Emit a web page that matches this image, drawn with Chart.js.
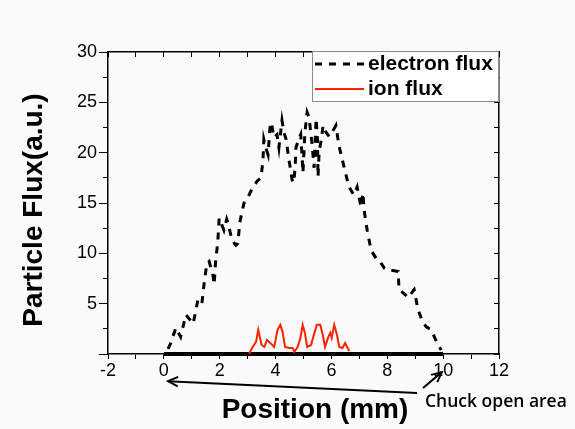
<!DOCTYPE html>
<html>
<head>
<meta charset="utf-8">
<script src="https://cdn.jsdelivr.net/npm/chart.js@4.4.1/dist/chart.umd.min.js"></script>
<style>
  html, body { margin: 0; padding: 0; background: #fafafa; }
</style>
</head>
<body>
<canvas id="graficoFlujo" width="575" height="429"></canvas>
<script>
// Datos (posicion en mm, flujo en u.a.)
const electronX = [0.15, 0.25, 0.43, 0.6, 0.79, 1.05, 1.22, 1.36, 1.45, 1.54, 1.62, 1.76, 1.8, 1.85, 1.93,
  1.98, 2.08, 2.15, 2.25, 2.3, 2.44, 2.58, 2.65, 2.72, 2.87, 3.0, 3.19, 3.35, 3.48, 3.55,
  3.58, 3.65, 3.73, 3.8, 3.85, 3.94, 4.05, 4.12, 4.23, 4.3, 4.37, 4.48, 4.59, 4.65, 4.7,
  4.73, 4.84, 4.9, 4.95, 4.98, 5.05, 5.13, 5.2, 5.3, 5.38, 5.45, 5.5, 5.52, 5.56, 5.65,
  5.7, 5.81, 5.92, 6.02, 6.16, 6.27, 6.45, 6.63, 6.8, 6.92, 7.06, 7.13, 7.17, 7.28, 7.42,
  7.6, 7.71, 7.9, 8.03, 8.2, 8.39, 8.42, 8.6, 8.75, 8.96, 9.1, 9.28, 9.4, 9.57, 9.82, 9.93];
const electronY = [0.5, 1.1, 2.6, 1.7, 3.9, 3.0, 5.4, 5.0, 7.2, 9.0, 9.2, 7.8, 6.9, 9.1, 11.1,
  13.5, 12.8, 12.3, 13.4, 13.0, 11.3, 10.8, 11.0, 13.1, 15.0, 15.5, 16.6, 17.2, 17.5, 19.3,
  21.3, 20.5, 19.8, 22.5, 23.0, 21.5, 21.8, 20.5, 23.2, 22.0, 21.4, 19.3, 17.3, 17.0, 18.5,
  20.5, 21.4, 21.8, 19.6, 18.0, 22.0, 24.0, 23.5, 21.0, 18.5, 23.4, 21.4, 17.6, 20.1, 21.5,
  22.7, 22.0, 21.6, 22.0, 22.7, 20.7, 18.6, 16.6, 15.8, 16.6, 14.6, 16.0, 14.3, 12.3, 10.3,
  9.5, 9.3, 8.5, 8.3, 8.3, 8.2, 6.4, 6.0, 5.6, 6.4, 4.4, 3.1, 2.7, 2.4, 0.9, 0.4];
const ionX = [3.05, 3.12, 3.18, 3.3, 3.38, 3.5, 3.6, 3.69, 3.81, 3.95, 4.07, 4.17, 4.25, 4.34, 4.49,
  4.61, 4.67, 4.79, 4.89, 4.97, 5.05, 5.13, 5.27, 5.39, 5.48, 5.6, 5.69, 5.77, 5.89, 5.96,
  6.01, 6.1, 6.2, 6.28, 6.4, 6.49, 6.58, 6.64];
const ionY = [0.0, 0.4, 0.7, 1.2, 2.4, 0.9, 0.7, 1.4, 1.1, 0.7, 2.4, 2.9, 2.2, 0.7, 0.6,
  0.6, 0.2, 0.7, 1.6, 2.9, 2.1, 0.7, 0.9, 2.1, 2.9, 2.9, 1.9, 0.7, 1.7, 2.1,
  1.6, 2.9, 1.9, 0.7, 0.6, 1.1, 0.6, 0.3];
const chuckX = [0, 10];   // zona abierta del chuck
const chuckY = [0, 0];
const xTickLabels = [-2, 0, 2, 4, 6, 8, 10, 12];
const yTickLabels = [5, 10, 15, 20, 25, 30];

function pares(xs, ys) {
    return xs.map((x, i) => ({ x: x, y: ys[i] }));
}

const fuenteTicks = { family: "'Liberation Sans', Arial, sans-serif", size: 18 };

// flecha simple con punta
function flecha(ctx, x1, y1, x2, y2) {
    const ang = Math.atan2(y2 - y1, x2 - x1);
    const largo = 11;
    ctx.beginPath();
    ctx.moveTo(x1, y1);
    ctx.lineTo(x2, y2);
    ctx.stroke();
    ctx.beginPath();
    ctx.moveTo(x2 - largo * Math.cos(ang - 0.45), y2 - largo * Math.sin(ang - 0.45));
    ctx.lineTo(x2, y2);
    ctx.lineTo(x2 - largo * Math.cos(ang + 0.45), y2 - largo * Math.sin(ang + 0.45));
    ctx.stroke();
}

// Leyenda, titulos de ejes y anotaciones
const anotaciones = {
    id: "anotaciones",
    afterDraw(chart) {
        const ctx = chart.ctx;
        const xs = chart.scales.x, ys = chart.scales.y;
        const area = chart.chartArea;
        const ds = chart.data.datasets;
        ctx.save();

        // leyenda con recuadro
        const lx = 312, ly = area.top - 1, lw = area.right - 1 - lx, lh = 50;
        ctx.fillStyle = "#ffffff";
        ctx.fillRect(lx, ly, lw, lh);
        ctx.strokeStyle = "#8a8a8a";
        ctx.lineWidth = 1;
        ctx.strokeRect(lx + 0.5, ly + 0.5, lw, lh);
        ctx.font = "bold 21px 'Liberation Sans', Arial, sans-serif";
        ctx.textBaseline = "middle";
        ctx.textAlign = "left";
        [0, 1].forEach(function (i) {
            const y = ly + 13 + i * 25;
            ctx.strokeStyle = ds[i].borderColor;
            ctx.lineWidth = ds[i].borderWidth;
            ctx.setLineDash(ds[i].borderDash || []);
            ctx.beginPath();
            ctx.moveTo(lx + 3, y);
            ctx.lineTo(lx + 52, y);
            ctx.stroke();
            ctx.setLineDash([]);
            ctx.fillStyle = "#000";
            ctx.fillText(ds[i].label, lx + 56, y);
        });

        // titulos de ejes
        ctx.fillStyle = "#000";
        ctx.font = "bold 28px 'Liberation Sans', Arial, sans-serif";
        ctx.textAlign = "center";
        ctx.fillText("Position (mm)", 315, 410);
        ctx.save();
        ctx.translate(34, 210);
        ctx.rotate(-Math.PI / 2);
        ctx.fillText("Particle Flux(a.u.)", 0, 0);
        ctx.restore();

        // anotacion del chuck
        ctx.font = "600 17.5px 'Open Sans', 'Noto Sans', sans-serif";
        ctx.textAlign = "left";
        ctx.textBaseline = "alphabetic";
        ctx.fillText("Chuck open area", 425, 407);
        ctx.strokeStyle = "#000";
        ctx.lineWidth = 2;
        flecha(ctx, 417, 393, xs.getPixelForValue(0.15), ys.getPixelForValue(-2.7));
        flecha(ctx, 423, 388, xs.getPixelForValue(9.95), ys.getPixelForValue(-1.8));
        ctx.restore();
    }
};

new Chart(document.getElementById("graficoFlujo").getContext("2d"), {
    type: "line",
    data: {
        datasets: [
            {
                label: "electron flux",
                data: pares(electronX, electronY),
                borderColor: "#000000",
                borderWidth: 3,
                borderDash: [7, 7],
                pointRadius: 0,
                tension: 0,
                clip: false,
            },
            {
                label: "ion flux",
                data: pares(ionX, ionY),
                borderColor: "#ff2200",
                borderWidth: 2,
                pointRadius: 0,
                tension: 0,
                clip: false,
            },
            {
                label: "chuck",
                data: pares(chuckX, chuckY),
                borderColor: "#000000",
                borderWidth: 4,
                pointRadius: 0,
                clip: false,
            },
        ],
    },
    options: {
        responsive: false,
        animation: false,
        layout: { padding: 0 },
        plugins: {
            legend: { display: false },
            tooltip: { enabled: false },
        },
        scales: {
            x: {
                type: "linear",
                position: "bottom",
                min: -2,
                max: 12,
                ticks: {
                    stepSize: 1,
                    autoSkip: false,
                    maxRotation: 0,
                    color: "#000",
                    font: fuenteTicks,
                    padding: 1,
                    callback: (v) => (xTickLabels.includes(v) ? v : ""),
                },
                grid: { drawOnChartArea: false, tickLength: 5, color: "#000" },
                border: { color: "#000", width: 1.5 },
                afterFit: (s) => { s.height = 75; },
            },
            x2: {
                type: "linear",
                position: "top",
                min: -2,
                max: 12,
                ticks: { stepSize: 1, display: false },
                grid: { drawOnChartArea: false, tickLength: -5, color: "#000" },
                border: { color: "#000", width: 1.5 },
                afterFit: (s) => { s.height = 52; },
            },
            y: {
                type: "linear",
                position: "left",
                weight: 1,
                min: 0,
                max: 30,
                ticks: {
                    stepSize: 5,
                    color: "#000",
                    font: fuenteTicks,
                    padding: 2,
                    callback: (v) => (yTickLabels.includes(v) ? v : ""),
                },
                grid: { drawOnChartArea: false, tickLength: 9, color: "#000" },
                border: { color: "#000", width: 1.5 },
                afterFit: (s) => { s.width = 108; },
            },
            yMenor: {
                type: "linear",
                position: "left",
                weight: 0,
                min: 0,
                max: 30,
                ticks: { stepSize: 2.5, display: false },
                grid: { drawOnChartArea: false, tickLength: 5, color: "#000" },
                border: { display: false },
                afterFit: (s) => { s.width = 0; },
            },
            y2: {
                type: "linear",
                position: "right",
                min: 0,
                max: 30,
                ticks: { stepSize: 2.5, display: false },
                grid: { drawOnChartArea: false, tickLength: -5, color: "#000" },
                border: { color: "#000", width: 1.5 },
                afterFit: (s) => { s.width = 76; },
            },
        },
    },
    plugins: [anotaciones],
});
</script>
</body>
</html>
